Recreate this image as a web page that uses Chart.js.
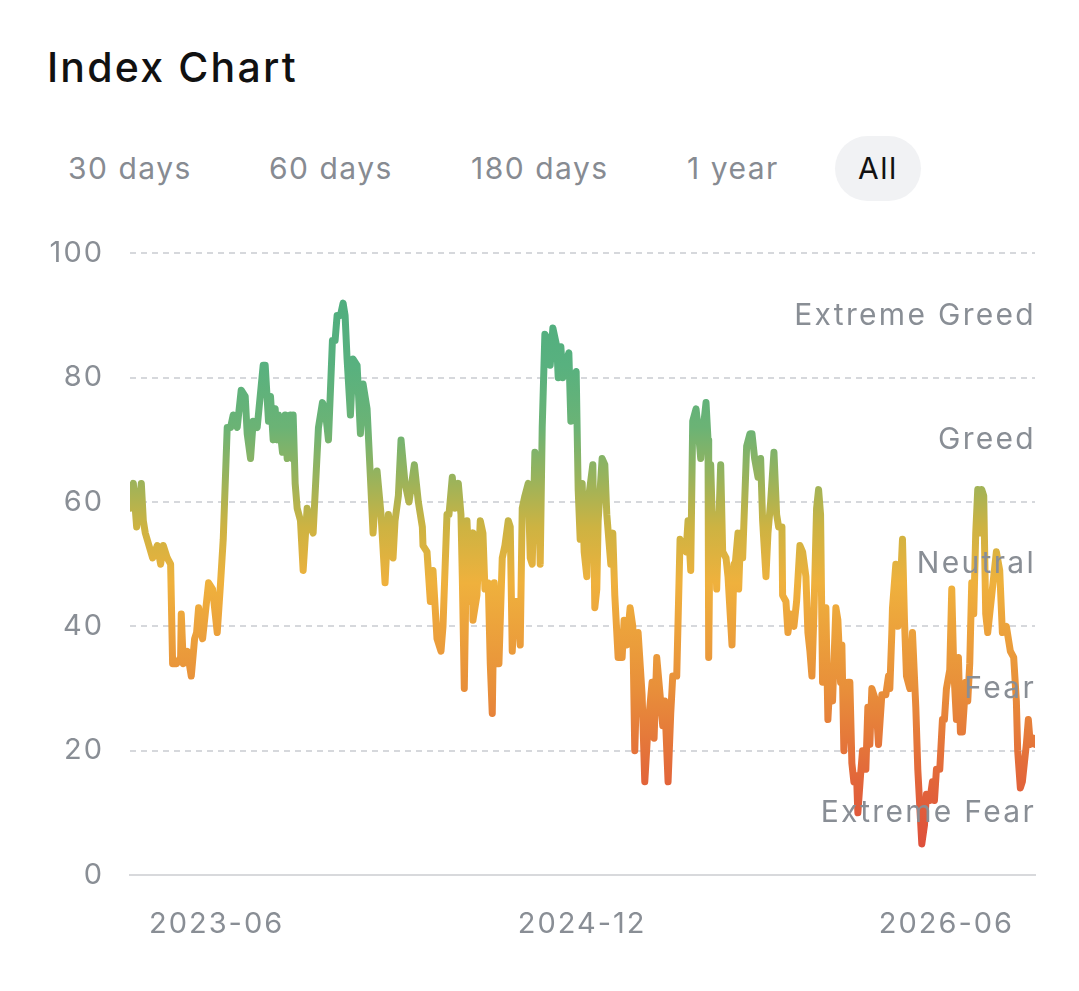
<!DOCTYPE html>
<html>
<head>
<meta charset="utf-8">
<script src="https://cdn.jsdelivr.net/npm/chart.js@4.4.0/dist/chart.umd.min.js"></script>
<style>
  html, body { margin: 0; padding: 0; background: #fff; }
  body { width: 1079px; height: 991px; position: relative; overflow: hidden; font-family: Inter, "Noto Sans", sans-serif; }
  #title { position: absolute; left: 47px; top: 47px; font-size: 41px; line-height: 41px; letter-spacing: 2.2px; color: #111; font-weight: 500; }
  .tab { position: absolute; top: 136px; height: 65px; line-height: 65px; font-size: 30px; letter-spacing: 1.5px; color: #878b92; white-space: nowrap; }
  .tab.active { color: #111; background: #f1f2f4; border-radius: 33px; padding: 0 23px; }
  #wrap { position: absolute; left: 0; top: 210px; width: 1079px; height: 740px; }
</style>
</head>
<body>
<div id="title">Index Chart</div>
<div id="tabs"></div>
<div id="wrap"><canvas id="chart"></canvas></div>
<script>
// Data
const startDate = '2023-01-22';
const dayOffsets = [0, 5, 10, 17, 20, 23, 34, 41, 46, 50, 56, 61, 64, 70, 76, 77, 80, 86, 92, 97,
  100, 103, 109, 113, 118, 124, 131, 136, 140, 146, 151, 155, 161, 167, 173, 176, 181, 185, 191, 200,
  203, 208, 211, 215, 218, 221, 223, 229, 233, 236, 241, 244, 245, 248, 251, 256, 260, 266, 271, 275,
  283, 289, 293, 298, 304, 308, 311, 316, 320, 323, 326, 331, 335, 341, 346, 350, 356, 361, 365, 371,
  377, 383, 388, 395, 398, 403, 407, 413, 419, 427, 433, 439, 440, 446, 451, 455, 461, 467, 470, 476,
  479, 484, 488, 493, 497, 499, 502, 506, 511, 514, 515, 521, 526, 530, 533, 538, 541, 544, 547, 551,
  554, 559, 563, 568, 571, 574, 578, 583, 586, 589, 593, 598, 601, 604, 608, 613, 616, 619, 623, 628,
  631, 635, 641, 643, 647, 650, 656, 659, 662, 665, 670, 673, 676, 679, 682, 686, 689, 695, 698, 701,
  703, 709, 713, 716, 722, 725, 728, 731, 733, 739, 742, 746, 751, 755, 758, 763, 769, 773, 778, 784,
  787, 791, 796, 800, 803, 808, 812, 815, 821, 826, 830, 835, 838, 842, 845, 850, 853, 857, 860, 865,
  868, 869, 872, 875, 878, 881, 887, 890, 895, 898, 904, 907, 908, 913, 914, 917, 920, 926, 931, 934,
  938, 943, 947, 950, 955, 958, 962, 967, 971, 974, 979, 980, 985, 988, 992, 997, 1001, 1006, 1010, 1015,
  1018, 1021, 1024, 1027, 1031, 1034, 1037, 1040, 1045, 1048, 1052, 1055, 1060, 1063, 1067, 1069, 1072, 1078, 1081, 1084,
  1087, 1091, 1093, 1097, 1100, 1105, 1108, 1111, 1114, 1120, 1124, 1129, 1135, 1139, 1141, 1144, 1145, 1150, 1153, 1157,
  1160, 1163, 1166, 1171, 1175, 1180, 1183, 1187, 1189, 1193, 1196, 1201, 1205, 1208, 1211, 1216, 1220, 1223, 1226, 1231,
  1234, 1237, 1241, 1244, 1247, 1250, 1255, 1258, 1261, 1264, 1267, 1270, 1273, 1276, 1279, 1282, 1285, 1288, 1294, 1298,
  1301, 1306, 1310, 1316, 1322, 1327, 1331, 1333, 1337, 1340, 1346, 1349, 1352, 1357, 1359];
const indexValues = [59, 63, 56, 63, 57, 55, 51, 53, 50, 53, 51, 50, 34, 34, 35, 42, 34, 36, 32, 38,
  39, 43, 38, 42, 47, 46, 39, 47, 54, 72, 72, 74, 72, 78, 77, 71, 67, 73, 72, 82,
  82, 73, 77, 70, 75, 70, 74, 68, 74, 67, 74, 67, 74, 63, 59, 57, 49, 59, 56, 55,
  72, 76, 75, 70, 86, 86, 90, 90, 92, 90, 83, 74, 83, 82, 71, 79, 75, 64, 55, 65,
  58, 47, 58, 51, 57, 61, 70, 63, 60, 66, 60, 56, 53, 52, 44, 49, 38, 36, 40, 58,
  58, 64, 59, 63, 58, 48, 30, 57, 44, 55, 41, 45, 57, 55, 46, 47, 34, 26, 47, 34,
  34, 51, 53, 57, 56, 36, 44, 44, 37, 59, 61, 63, 51, 50, 68, 64, 50, 72, 87, 86,
  82, 88, 85, 80, 85, 80, 83, 84, 73, 79, 81, 62, 54, 63, 52, 48, 61, 66, 43, 46,
  57, 67, 66, 58, 50, 55, 45, 39, 35, 35, 41, 37, 43, 40, 20, 39, 29, 15, 24, 31,
  22, 35, 29, 24, 28, 15, 26, 32, 32, 54, 53, 52, 57, 49, 73, 75, 72, 67, 71, 76,
  70, 35, 66, 55, 58, 46, 66, 52, 51, 48, 37, 50, 49, 55, 46, 55, 51, 69, 71, 71,
  67, 64, 67, 57, 48, 55, 60, 68, 58, 56, 56, 45, 44, 39, 42, 40, 44, 53, 52, 48,
  39, 36, 32, 42, 59, 62, 58, 31, 43, 25, 33, 28, 43, 41, 31, 37, 20, 31, 31, 18,
  15, 16, 10, 16, 20, 17, 27, 21, 30, 28, 21, 29, 29, 32, 30, 39, 43, 50, 40, 47,
  54, 41, 32, 30, 39, 27, 17, 9, 5, 8, 13, 12, 15, 12, 17, 17, 25, 25, 30, 33,
  46, 33, 25, 35, 23, 23, 31, 28, 34, 47, 42, 55, 62, 55, 62, 61, 42, 39, 45, 49,
  52, 49, 39, 40, 36, 35, 28, 20, 14, 15, 21, 25, 21, 22, 21];
const xTickLabels = ['2023-06', '2024-12', '2026-06'];
const zoneLabels = ['Extreme Greed', 'Greed', 'Neutral', 'Fear', 'Extreme Fear'];
const zoneLevels = [90, 70, 50, 30, 10];
const rangeTabs = ['30 days', '60 days', '180 days', '1 year', 'All'];
const activeTab = 'All';

// Tabs
const tabLeft = [68, 269, 471, 687, 835];
const tabs = document.getElementById('tabs');
tabs.innerHTML = rangeTabs.map((t, i) =>
  `<span class="tab${t === activeTab ? ' active' : ''}" style="left:${tabLeft[i]}px">${t}</span>`).join('');

// Helpers
const DAY = 86400000;
const startMs = Date.parse(startDate + 'T00:00:00Z');
function monthToOffset(label) {
  const [y, m] = label.split('-').map(Number);
  return Math.round((Date.UTC(y, m - 1, 1) - startMs) / DAY);
}
const xTickOffsets = xTickLabels.map(monthToOffset);

const points = dayOffsets.map((d, i) => ({ x: d, y: indexValues[i] }));

function lineGradient(context) {
  const { chart } = context;
  const area = chart.chartArea;
  if (!area) return '#f0b23e';
  const g = chart.ctx.createLinearGradient(0, area.bottom, 0, area.top);
  g.addColorStop(0, '#dc463c');
  g.addColorStop(0.15, '#e2653a');
  g.addColorStop(0.3, '#e88f3a');
  g.addColorStop(0.47, '#efb13d');
  g.addColorStop(0.56, '#cdb342');
  g.addColorStop(0.64, '#98b35c');
  g.addColorStop(0.72, '#6bb375');
  g.addColorStop(0.82, '#58b17f');
  g.addColorStop(1, '#4aab7e');
  return g;
}

const spacing = {
  id: 'spacing',
  beforeDraw(chart) { chart.ctx.letterSpacing = '2px'; }
};

const zones = {
  id: 'zones',
  afterDatasetsDraw(chart) {
    const { ctx, chartArea, scales } = chart;
    ctx.save();
    ctx.letterSpacing = '2.3px';
    ctx.font = '30px Inter, "Noto Sans", sans-serif';
    ctx.fillStyle = '#898e95';
    ctx.textAlign = 'right';
    ctx.textBaseline = 'middle';
    zoneLabels.forEach((label, i) => {
      ctx.fillText(label, chartArea.right + 1, scales.y.getPixelForValue(zoneLevels[i]));
    });
    ctx.restore();
  }
};

new Chart(document.getElementById('chart'), {
  type: 'line',
  data: {
    datasets: [{
      data: points,
      borderColor: lineGradient,
      borderWidth: 7,
      borderJoinStyle: 'round',
      borderCapStyle: 'round',
      pointRadius: 0,
      tension: 0,
      fill: false
    }]
  },
  options: {
    responsive: true,
    maintainAspectRatio: false,
    animation: false,
    layout: { padding: { top: 2, right: 44, left: 0, bottom: 0 } },
    plugins: { legend: { display: false }, tooltip: { enabled: false } },
    scales: {
      x: {
        type: 'linear',
        min: dayOffsets[0],
        max: dayOffsets[dayOffsets.length - 1],
        afterFit(scale) { scale.height = 75; },
        afterBuildTicks(scale) { scale.ticks = xTickOffsets.map(v => ({ value: v })); },
        grid: { display: true, color: 'transparent', drawTicks: false },
        border: { display: true, color: '#d8d9dc', width: 2 },
        ticks: {
          autoSkip: false,
          maxRotation: 0,
          padding: 32,
          color: '#898e95',
          font: { family: 'Inter', size: 29 },
          callback: (v) => xTickLabels[xTickOffsets.indexOf(v)]
        }
      },
      y: {
        min: 0,
        max: 100,
        afterFit(scale) { scale.width = 130; },
        grid: {
          color: (c) => c.tick && c.tick.value === 0 ? 'transparent' : '#d6d8dc',
          lineWidth: 2,
          drawTicks: false
        },
        border: { display: false, dash: [6, 5] },
        ticks: {
          stepSize: 20,
          padding: 26,
          color: '#898e95',
          font: { family: 'Inter', size: 29 }
        }
      }
    }
  },
  plugins: [spacing, zones]
});
</script>
</body>
</html>
